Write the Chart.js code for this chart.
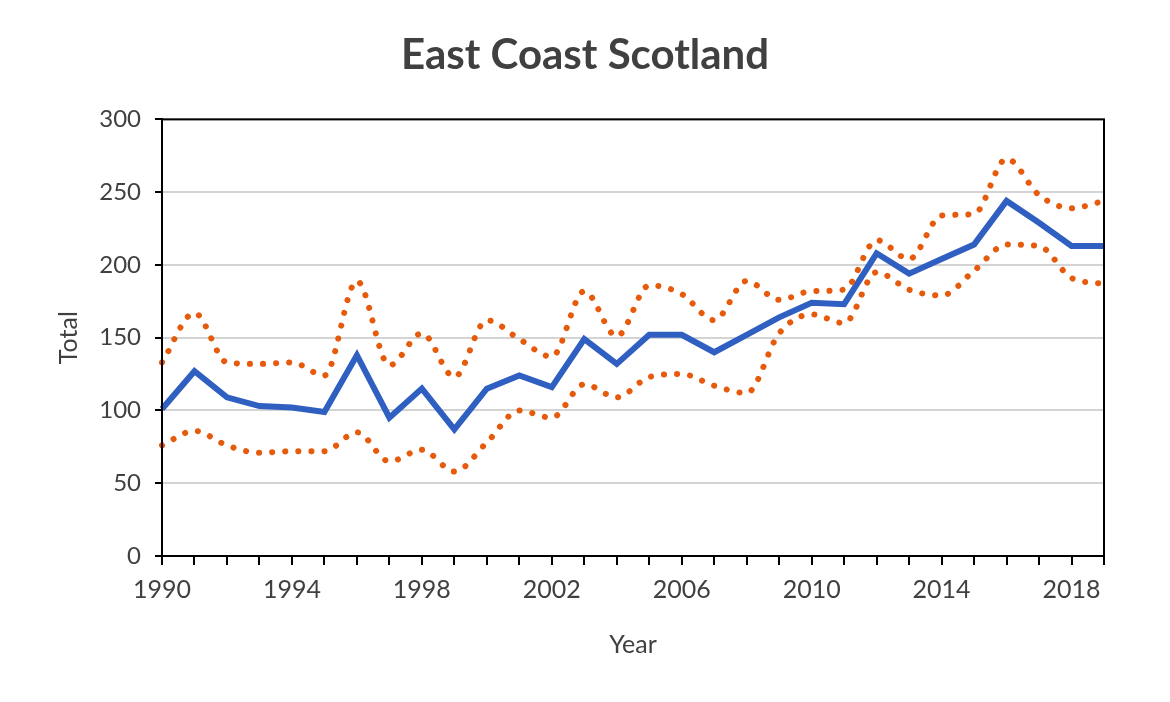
<!DOCTYPE html>
<html>
<head>
<meta charset="utf-8">
<script src="https://cdn.jsdelivr.net/npm/chart.js@4"></script>
<style>
  html, body { margin: 0; padding: 0; background: #fff; }
</style>
</head>
<body>
<canvas id="eastCoast" width="1170" height="702"></canvas>
<script>
const years = [1990, 1991, 1992, 1993, 1994, 1995, 1996, 1997, 1998, 1999,
               2000, 2001, 2002, 2003, 2004, 2005, 2006, 2007, 2008, 2009,
               2010, 2011, 2012, 2013, 2014, 2015, 2016, 2017, 2018, 2019];
const total = [101, 127, 109, 103, 102, 99, 138, 95, 115, 87,
               115, 124, 116, 149, 132, 152, 152, 140, 152, 164,
               174, 173, 208, 194, 204, 214, 244, 229, 213, 213];
const upper = [133, 167, 133, 132, 133, 124, 189, 131, 153, 123,
               162, 149, 137, 182, 151, 186, 180, 162, 189, 176,
               182, 183, 217, 204, 234, 235, 273, 248, 239, 244];
const lower = [76, 86, 76, 71, 72, 72, 85, 65, 73, 58,
               78, 100, 95, 118, 109, 123, 125, 117, 112, 153,
               166, 160, 195, 183, 179, 196, 214, 213, 191, 187];
const yTicks = [0, 50, 100, 150, 200, 250, 300];

const textColor = '#404040';
const orange = '#E65A0C';

// black frame round the plot area (top and right sides)
const frame = {
    id: 'frame',
    afterDraw(chart) {
        const a = chart.chartArea, ctx = chart.ctx;
        ctx.save();
        ctx.strokeStyle = '#000';
        ctx.lineWidth = 2;
        ctx.strokeRect(a.left, a.top, a.right - a.left, a.bottom - a.top);
        ctx.restore();
    }
};

document.addEventListener('DOMContentLoaded', () => {
    const dotted = (data) => ({
        data: data,
        borderColor: orange,
        borderWidth: 6,
        borderDash: [0.1, 13],
        borderCapStyle: 'round',
        cubicInterpolationMode: 'monotone',
        pointRadius: 0,
        fill: false
    });

    new Chart('eastCoast', {
        type: 'line',
        data: {
            labels: years,
            datasets: [
                dotted(upper),
                dotted(lower),
                {
                    data: total,
                    borderColor: '#2F5FC0',
                    borderWidth: 6,
                    borderJoinStyle: 'miter',
                    pointRadius: 0,
                    tension: 0,
                    fill: false
                }
            ]
        },
        plugins: [frame],
        options: {
            responsive: false,
            animation: false,
            devicePixelRatio: 1,
            layout: { padding: { left: 50, right: 50, top: 0, bottom: 38 } },
            plugins: {
                legend: { display: false },
                tooltip: { enabled: false },
                title: {
                    display: true,
                    text: 'East Coast Scotland',
                    color: textColor,
                    font: { family: 'Lato', size: 42, weight: 'bold' },
                    padding: { top: 30, bottom: 39 }
                }
            },
            scales: {
                x: {
                    type: 'category',
                    offset: false,
                    grid: {
                        drawOnChartArea: false,
                        color: '#000',
                        tickColor: '#000',
                        tickLength: 9,
                        lineWidth: 2
                    },
                    border: { color: '#000', width: 2 },
                    ticks: {
                        autoSkip: false,
                        maxRotation: 0,
                        color: textColor,
                        font: { family: 'Lato', size: 25 },
                        padding: 10,
                        callback: function (v, i) {
                            return (years[i] - 1990) % 4 === 0 ? String(years[i]) : '';
                        }
                    },
                    title: {
                        display: true,
                        text: 'Year',
                        color: textColor,
                        font: { family: 'Lato', size: 25 },
                        padding: { top: 10 }
                    },
                    afterFit: (s) => { s.height = 108; }
                },
                y: {
                    min: 0,
                    max: 300,
                    afterBuildTicks: (s) => { s.ticks = yTicks.map(v => ({ value: v })); },
                    grid: {
                        color: (c) => (c.tick && c.tick.value === 0) ? '#000' : '#D4D4D4',
                        tickColor: '#000',
                        tickLength: 7,
                        lineWidth: 2
                    },
                    border: { color: '#000', width: 2 },
                    ticks: {
                        color: textColor,
                        font: { family: 'Lato', size: 24 },
                        padding: 14
                    },
                    title: {
                        display: true,
                        text: 'Total',
                        color: textColor,
                        font: { family: 'Lato', size: 25 },
                        padding: { bottom: 10 }
                    },
                    afterFit: (s) => { s.width = 112; }
                },
                // empty right-hand axis keeps the plot clear of the right edge
                gap: {
                    position: 'right',
                    min: 0,
                    max: 300,
                    grid: { drawOnChartArea: false, drawTicks: false },
                    border: { display: false },
                    ticks: { display: false },
                    afterFit: (s) => { s.width = 16; }
                }
            }
        }
    });
});
</script>
</body>
</html>
